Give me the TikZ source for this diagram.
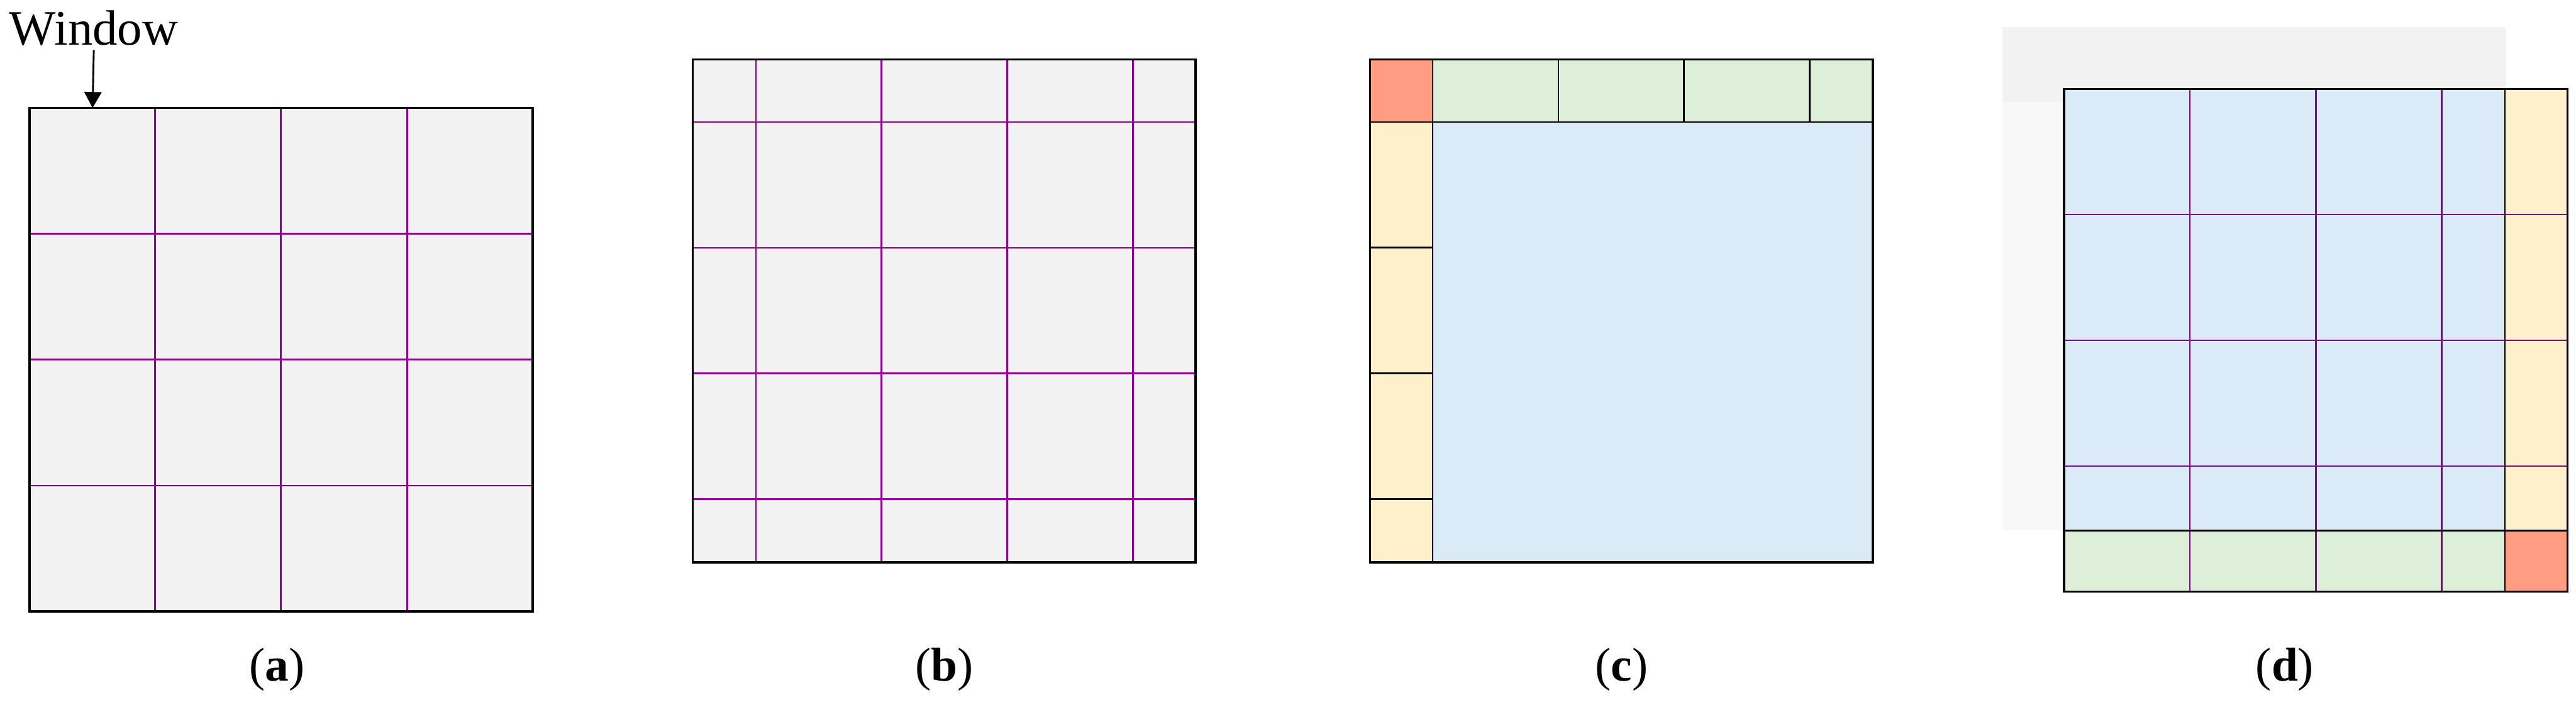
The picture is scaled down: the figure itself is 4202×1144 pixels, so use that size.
\documentclass[tikz,border=0pt]{standalone}
\usepackage{fontspec}
\setmainfont{Liberation Serif}
\usetikzlibrary{arrows.meta}
\definecolor{cgray}{HTML}{F2F2F2}
\definecolor{cpurp}{HTML}{8E008E}
\definecolor{cblue}{HTML}{DAEBF7}
\definecolor{cgreen}{HTML}{DEEFD9}
\definecolor{cyel}{HTML}{FFF0CC}
\definecolor{cred}{HTML}{FF9C82}
\definecolor{cpale}{HTML}{F8F8F8}
\begin{document}
\begin{tikzpicture}[x=0.01cm,y=-0.01cm,
  frame/.style={draw=black,line width=1pt},
  pline/.style={draw=cpurp,line width=0.75pt},
  bline/.style={draw=black,line width=0.8pt},
  captext/.style={anchor=base,font=\fontsize{22}{26}\selectfont},
  lbl/.style={font=\fontsize{23}{27}\selectfont,inner sep=2pt}
]
\useasboundingbox (0,0) rectangle (4202,1144);

% ---------- (a)
\fill[cgray] (48,176) rectangle (869,997);
\foreach \v in {253,458,664} \draw[pline] (\v,176) -- (\v,997);
\foreach \h in {381,586,792} \draw[pline] (48,\h) -- (869,\h);
\draw[frame] (48,176) rectangle (869,997);
\node[lbl,anchor=base] (win) at (153,73) {Window};
\coordinate (wintip) at (151,176);
\draw[line width=0.85pt,-{Triangle[length=7.4pt,width=8pt]}] (win.south) -- (wintip);
\node[captext] (capa) at (452,1110) {(\textbf{a})};

% ---------- (b)
\fill[cgray] (1130,97) rectangle (1950,917);
\foreach \v in {1233,1438,1643,1848} \draw[pline] (\v,97) -- (\v,917);
\foreach \h in {199,404,609,814} \draw[pline] (1130,\h) -- (1950,\h);
\draw[frame] (1130,97) rectangle (1950,917);
\node[captext] (capb) at (1540,1110) {(\textbf{b})};

% ---------- (c)
\fill[cred] (2235,97) rectangle (2337,199);
\fill[cgreen] (2337,97) rectangle (3055,199);
\fill[cyel] (2235,199) rectangle (2337,917);
\fill[cblue] (2337,199) rectangle (3055,917);
\draw[bline] (2337,97) -- (2337,917);
\draw[bline] (2235,199) -- (3055,199);
\foreach \v in {2542,2747,2952} \draw[bline] (\v,97) -- (\v,199);
\foreach \h in {404,609,814} \draw[bline] (2235,\h) -- (2337,\h);
\draw[frame] (2235,97) rectangle (3055,917);
\node[captext] (capc) at (2645,1110) {(\textbf{c})};

% ---------- (d)
\fill[cgray] (3266,44) rectangle (4088,167);
\fill[cpale] (3266,167) rectangle (3367,865);
\fill[cblue] (3367,145) rectangle (4086,865);
\fill[cyel] (4086,145) rectangle (4188,865);
\fill[cgreen] (3367,865) rectangle (4086,965);
\fill[cred] (4086,865) rectangle (4188,965);
\foreach \v in {3572,3778,3983} \draw[pline] (\v,145) -- (\v,965);
\foreach \h in {350,555,760} \draw[pline] (3367,\h) -- (4188,\h);
\draw[bline] (4086,145) -- (4086,965);
\draw[bline] (3367,865) -- (4188,865);
\draw[frame] (3367,145) rectangle (4188,965);
\node[captext] (capd) at (3727,1110) {(\textbf{d})};
\end{tikzpicture}
\end{document}
